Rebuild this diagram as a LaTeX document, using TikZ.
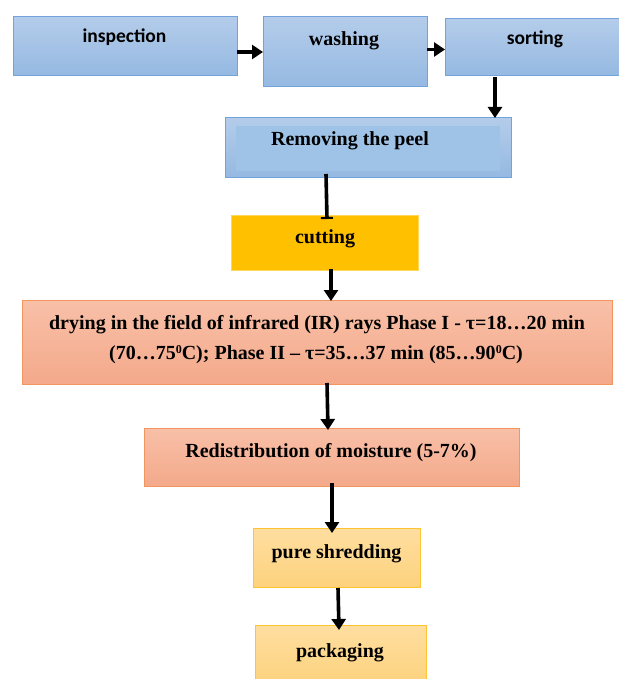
\documentclass[tikz,border=0pt]{standalone}
\usepackage{fontspec}
\setmainfont{Liberation Serif}
\newfontfamily\calfont{Carlito}
\usetikzlibrary{arrows.meta}
\definecolor{bluetop}{RGB}{180,204,234}
\definecolor{bluebot}{RGB}{149,185,226}
\definecolor{blueline}{RGB}{114,163,218}
\definecolor{blueinner}{RGB}{158,195,230}
\definecolor{goldfill}{RGB}{255,192,0}
\definecolor{goldline}{RGB}{255,215,90}
\definecolor{salmtop}{RGB}{248,192,168}
\definecolor{salmbot}{RGB}{244,169,138}
\definecolor{salmline}{RGB}{242,150,95}
\definecolor{ylwtop}{RGB}{254,222,160}
\definecolor{ylwbot}{RGB}{253,210,125}
\definecolor{ylwline}{RGB}{255,196,50}
\begin{document}
\begin{tikzpicture}[x=1pt,y=-1pt,
  box/.style={rectangle,inner sep=0pt,outer sep=0pt,anchor=north west,line width=1pt},
  bluebox/.style={box,draw=blueline,top color=bluetop,bottom color=bluebot},
  goldbox/.style={box,draw=goldline,fill=goldfill},
  salmbox/.style={box,draw=salmline,top color=salmtop,bottom color=salmbot},
  ylwbox/.style={box,draw=ylwline,top color=ylwtop,bottom color=ylwbot},
  serif/.style={anchor=base,inner sep=0pt,font=\fontsize{20}{29}\selectfont\bfseries},
  sans/.style={anchor=base,inner sep=0pt,font=\fontsize{19.5}{24}\selectfont\calfont\bfseries},
  arr/.style={line width=3.6pt,-{Triangle[length=11pt,width=14pt]}},
  barr/.style={line width=3.6pt,-{Bar[width=12pt,line width=2pt]}}]
\useasboundingbox (0,0) rectangle (618,679);
% boxes
\node[bluebox,minimum width=224pt,minimum height=59pt] (insp) at (13,17) {};
\node[bluebox,minimum width=164pt,minimum height=70pt] (wash) at (263,17) {};
\node[bluebox,minimum width=180pt,minimum height=57pt] (sort) at (445,19) {};
\node[bluebox,minimum width=286pt,minimum height=59pt] (remv) at (225,118) {};
\node[box,fill=blueinner,minimum width=264pt,minimum height=45pt] (remvin) at (236,126) {};
\node[goldbox,minimum width=187pt,minimum height=55pt] (cut) at (231,215) {};
\node[salmbox,minimum width=590pt,minimum height=84pt] (dry) at (22,300) {};
\node[salmbox,minimum width=375pt,minimum height=58pt] (redis) at (144,428) {};
\node[ylwbox,minimum width=167pt,minimum height=59pt] (shred) at (253,528) {};
\node[ylwbox,minimum width=171pt,minimum height=60pt] (pack) at (255,625) {};
% texts
\node[sans] (tinsp) at (124.5,43) {inspection};
\node[serif] (twash) at (344,46) {washing};
\node[sans] (tsort) at (535,45) {sorting};
\node[serif] (tremv) at (350,146) {Removing the peel};
\node[serif] (tcut) at (325,243) {cutting};
\node[serif] (tdry1) at (317,329) {drying in the field of infrared (IR) rays Phase I - τ=18…20 min};
\node[serif] (tdry2) at (316,359) {(70…75{\fontsize{12}{12}\selectfont\raisebox{6pt}{0}}C); Phase II – τ=35…37 min (85…90{\fontsize{12}{12}\selectfont\raisebox{6pt}{0}}C)};
\node[serif] (tredis) at (331,457) {Redistribution of moisture (5-7\%)};
\node[serif] (tshred) at (336.5,558) {pure shredding};
\node[serif] (tpack) at (340,657) {packaging};
% connectors
\draw[arr] (insp.east |- wash.west) -- (wash.west);
\draw[arr] ([yshift=-2pt]wash.east |- sort.west) -- ([yshift=-2pt]sort.west);
\draw[arr] ([xshift=-16pt,yshift=-1pt]sort.south -| remv.north east) -- ([xshift=-16pt]remv.north east);
\draw[barr] ([xshift=101pt,yshift=3pt]remv.south west) -- ([xshift=96pt,yshift=-4pt]cut.north west);
\draw[arr] ([xshift=100pt,yshift=1pt]cut.south west) -- ([xshift=309pt,yshift=-1pt]dry.north west);
\draw[arr] ([xshift=305pt,yshift=1pt]dry.south west) -- ([xshift=184pt,yshift=-2pt]redis.north west);
\draw[arr] ([xshift=188pt,yshift=3pt]redis.south west) -- ([xshift=79pt,yshift=-5pt]shred.north west);
\draw[arr] ([xshift=85pt,yshift=-1pt]shred.south west) -- ([xshift=84pt,yshift=-5pt]pack.north west);
\end{tikzpicture}
\end{document}
